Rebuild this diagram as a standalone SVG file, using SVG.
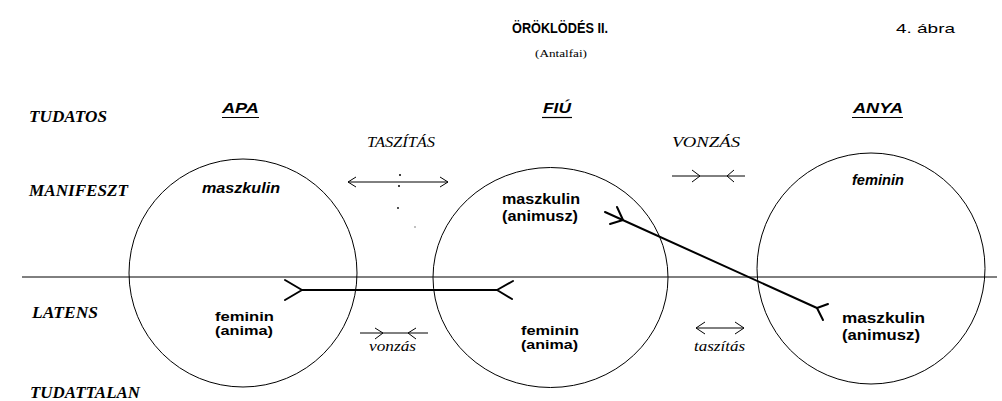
<svg xmlns="http://www.w3.org/2000/svg" width="1002" height="401" viewBox="0 0 1002 401">
<style>
.bg{fill:#fff}
.ring{fill:none;stroke:#000;stroke-width:1}
.lvl{font-family:"Liberation Serif",serif;font-weight:bold;font-style:italic;font-size:16px;fill:#000}
.rel{font-family:"Liberation Serif",serif;font-style:italic;font-size:14px;fill:#000}
.who{font-family:"Liberation Sans",Arial,sans-serif;font-weight:bold;font-style:italic;font-size:14px;fill:#000}
.txt{font-family:"Liberation Sans",Arial,sans-serif;font-weight:bold;font-size:15px;fill:#000}
.sm{font-size:13.5px}
.txti{font-family:"Liberation Sans",Arial,sans-serif;font-weight:bold;font-style:italic;font-size:15px;fill:#000}
.ul{stroke:#000;stroke-width:1.2}
.thin{fill:none;stroke:#000;stroke-width:1}
.thick{fill:none;stroke:#000;stroke-width:2;stroke-linecap:round;stroke-linejoin:round}
</style>
<rect class="bg" x="0" y="0" width="1002" height="401"/>

<g id="header">
<text x="560" y="33" text-anchor="middle" font-family="'Liberation Sans',Arial,sans-serif" font-weight="bold" font-size="14" textLength="96" lengthAdjust="spacingAndGlyphs">ÖRÖKLÖDÉS II.</text>
<text x="896" y="33" font-family="'Liberation Sans',Arial,sans-serif" font-size="13" textLength="59" lengthAdjust="spacingAndGlyphs">4. ábra</text>
<text x="535" y="57" font-family="'Liberation Serif',serif" font-size="11" textLength="52" lengthAdjust="spacingAndGlyphs">(Antalfai)</text>
</g>

<g id="levels">
<text class="lvl" x="29" y="122" textLength="78" lengthAdjust="spacingAndGlyphs">TUDATOS</text>
<text class="lvl" x="29" y="196" textLength="99" lengthAdjust="spacingAndGlyphs">MANIFESZT</text>
<text class="lvl" x="32" y="318" textLength="66" lengthAdjust="spacingAndGlyphs">LATENS</text>
<text class="lvl" x="30" y="398" textLength="110" lengthAdjust="spacingAndGlyphs">TUDATTALAN</text>
<line class="thin" x1="22" y1="277" x2="997" y2="277"/>
</g>

<g id="apa">
<circle class="ring" cx="243" cy="273" r="114"/>
<text class="who" x="222" y="113" textLength="37" lengthAdjust="spacingAndGlyphs">APA</text>
<line class="ul" x1="222" y1="117.5" x2="259" y2="117.5"/>
<text class="txti" x="202" y="193" textLength="78" lengthAdjust="spacingAndGlyphs">maszkulin</text>
<text class="txt sm" x="215" y="321" textLength="59" lengthAdjust="spacingAndGlyphs">feminin</text>
<text class="txt sm" x="215" y="335" textLength="58" lengthAdjust="spacingAndGlyphs">(anima)</text>
</g>

<g id="fiu">
<ellipse class="ring" cx="550.5" cy="277.5" rx="117.5" ry="110"/>
<text class="who" x="543" y="113" textLength="28" lengthAdjust="spacingAndGlyphs">FIÚ</text>
<line class="ul" x1="542" y1="117.5" x2="572" y2="117.5"/>
<text class="txt" x="502" y="204" textLength="78" lengthAdjust="spacingAndGlyphs">maszkulin</text>
<text class="txt" x="502" y="221" textLength="76" lengthAdjust="spacingAndGlyphs">(animusz)</text>
<text class="txt sm" x="521" y="335" textLength="58" lengthAdjust="spacingAndGlyphs">feminin</text>
<text class="txt sm" x="521" y="349" textLength="57" lengthAdjust="spacingAndGlyphs">(anima)</text>
</g>

<g id="anya">
<ellipse class="ring" cx="871" cy="268.5" rx="114" ry="115.5"/>
<text class="who" x="853" y="113" textLength="50" lengthAdjust="spacingAndGlyphs">ANYA</text>
<line class="ul" x1="852" y1="117.5" x2="903" y2="117.5"/>
<text class="txti" x="852" y="185" textLength="52" lengthAdjust="spacingAndGlyphs">feminin</text>
<text class="txt" x="842" y="323" textLength="83" lengthAdjust="spacingAndGlyphs">maszkulin</text>
<text class="txt" x="842" y="340" textLength="78" lengthAdjust="spacingAndGlyphs">(animusz)</text>
</g>

<g id="relations">
<text class="rel" x="367" y="147" textLength="68" lengthAdjust="spacingAndGlyphs">TASZÍTÁS</text>
<text class="rel" x="672" y="147" textLength="68" lengthAdjust="spacingAndGlyphs">VONZÁS</text>
<text class="rel" x="369" y="351" font-size="13" textLength="47" lengthAdjust="spacingAndGlyphs">vonzás</text>
<text class="rel" x="694" y="351" font-size="13" textLength="51" lengthAdjust="spacingAndGlyphs">taszítás</text>
</g>

<g id="connectors">
<line class="thin" x1="348" y1="182" x2="448" y2="182" stroke-width="1.4"/>
<polyline class="thin" points="356,177 348,182 356,187"/>
<polyline class="thin" points="440,177 448,182 440,187"/>
<circle cx="400" cy="175" r="1" fill="#000"/>
<circle cx="399" cy="186" r="1" fill="#000"/>
<circle cx="398" cy="208" r="0.9" fill="#000"/>
<circle cx="415" cy="227" r="0.7" fill="#555"/>
<line class="thin" x1="672" y1="176" x2="745" y2="176"/>
<polyline class="thin" points="692,170 700,176 692,182"/>
<polyline class="thin" points="734,170 727,176 734,182"/>
<line class="thin" x1="360" y1="333" x2="428" y2="333"/>
<polyline class="thin" points="375,328 383,333 375,339"/>
<polyline class="thin" points="416,328 408,333 416,339"/>
<line class="thin" x1="696" y1="328" x2="744" y2="328"/>
<polyline class="thin" points="705,322 696,328 705,334"/>
<polyline class="thin" points="735,322 744,328 735,334"/>
<line class="thick" x1="302" y1="290" x2="497" y2="290"/>
<polyline class="thick" points="285,280 302,290 285,300"/>
<polyline class="thick" points="513,281 497,290 512,299"/>
<line class="thick" x1="605" y1="212" x2="817" y2="308"/>
<polyline class="thick" points="617,207 623,220 610,224"/>
<polyline class="thick" points="828,304 817,308 823,320"/>
</g>
</svg>
